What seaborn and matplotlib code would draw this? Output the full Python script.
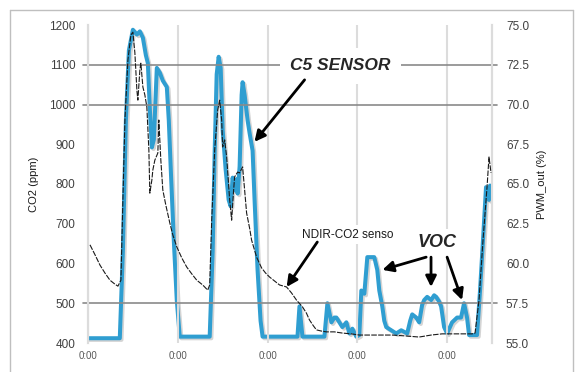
import matplotlib
matplotlib.use("Agg")
import matplotlib.pyplot as plt
import matplotlib.patheffects as pe
from matplotlib.lines import Line2D
import seaborn as sns
import pandas as pd

# ---- data (time in hours from first midnight) ----
c5_t = [0, 8.5, 9.33, 10.13, 10.93, 12.0, 13.07, 13.87, 14.67, 15.47, 16.0, 16.53, 17.07, 17.6,
        18.4, 19.2, 20.0, 21.07, 21.6, 22.13, 22.93, 23.73, 24.53, 32.53, 33.33, 33.87, 34.4,
        34.93, 35.47, 36.0, 36.8, 37.6, 38.13, 38.67, 39.2, 39.73, 40.0, 40.53, 41.07, 41.33,
        41.87, 42.67, 43.2, 44.0, 44.53, 45.33, 46.13, 46.67, 56.0, 56.53, 57.33, 63.2, 64.0,
        65.07, 65.87, 66.4, 67.2, 68.0, 69.07, 69.87, 70.67, 71.73, 72.53, 73.07, 73.87, 74.67,
        76.53, 77.33, 77.87, 78.67, 79.2, 79.73, 81.07, 82.4, 83.73, 85.33, 86.13, 86.67, 87.73,
        88.53, 89.33, 89.87, 90.67, 91.73, 92.53, 93.07, 93.87, 94.4, 95.2, 96.0, 97.33, 98.67,
        99.73, 100.53, 101.33, 101.87, 104.0, 104.8, 105.6, 106.4, 106.93, 107.2, 107.47, 107.73]
c5_pwm = [55.3, 55.3, 60.8, 69.0, 73.4, 74.7, 74.4, 74.6, 74.2, 73.1, 72.6, 69.7, 67.3, 67.8,
          72.3, 72.0, 71.5, 71.1, 69.0, 65.9, 61.5, 57.7, 55.4, 55.4, 60.8, 67.1, 71.9,
          73.0, 72.3, 68.4, 65.9, 64.0, 63.6, 65.4, 64.6, 65.3, 64.4, 66.1, 70.6, 71.4,
          70.6, 69.0, 68.2, 67.1, 64.0, 59.6, 56.4, 55.4, 55.4, 57.3, 55.4, 55.4, 57.5,
          56.3, 56.6, 56.6, 56.3, 56.0, 56.3, 55.6, 55.9, 55.4, 55.5, 58.3, 58.1, 60.4,
          60.4, 59.6, 58.3, 57.3, 56.4, 56.0, 55.8, 55.6, 55.8, 55.6, 56.4, 56.8, 56.6,
          56.3, 57.4, 57.7, 57.9, 57.7, 58.0, 57.9, 57.6, 57.3, 56.0, 55.6, 56.3, 56.6,
          56.6, 57.5, 56.6, 55.5, 55.5, 58.3, 61.5, 64.8, 64.3, 64.0, 64.9, 64.6]

ndir_t = [0.53, 1.87, 3.2, 4.53, 5.87, 7.2, 8.0, 8.8, 9.33, 9.87, 10.67, 11.47, 12.0, 12.53,
          13.07, 13.33, 13.87, 14.13, 14.67, 15.2, 15.73, 16.27, 16.53, 17.07, 17.33, 17.87,
          18.67, 18.93, 19.47, 20.0, 20.8, 21.87, 22.67, 23.73, 25.07, 26.4, 27.73, 29.07,
          30.67, 32.0, 32.53, 33.07, 33.87, 34.67, 35.2, 35.73, 36.0, 36.53, 37.07, 37.87,
          38.4, 38.93, 39.2, 40.0, 40.53, 41.33, 41.87, 42.4, 43.2, 43.73, 45.07, 46.4, 47.47,
          48.53, 49.87, 51.2, 53.07, 54.4, 55.73, 57.33, 58.4, 59.2, 60.27, 61.07, 62.4, 63.73,
          65.87, 68.0, 70.4, 72.53, 76.53, 81.33, 84.53, 88.53, 91.73, 94.67, 98.67, 102.67,
          103.47, 104.53, 105.6, 106.67, 107.2, 107.47, 107.73]
ndir_ppm = [647, 622, 596, 576, 558, 548, 543, 558, 760, 961, 1112, 1175, 1182, 1130,
            1036, 1011, 1087, 1104, 1044, 1024, 994, 886, 777, 810, 835, 860,
            878, 961, 860, 785, 747, 702, 672, 642, 614, 591, 574, 558,
            546, 533, 546, 709, 886, 986, 1011, 961, 893, 911, 868, 760,
            709, 785, 818, 830, 828, 843, 785, 727, 689, 659, 616, 589, 576,
            566, 556, 546, 541, 526, 508, 491, 475, 458, 443, 433, 430, 428,
            428, 425, 423, 420, 420, 420, 418, 415, 420, 423, 423, 423,
            425, 508, 659, 792, 868, 848, 828]

left_ticks = [400, 500, 600, 700, 800, 900, 1000, 1100, 1200]
right_ticks = [55.0, 57.5, 60.0, 62.5, 65.0, 67.5, 70.0, 72.5, 75.0]
x_ticks = [0, 24, 48, 72, 96]
x_labels = ["0:00"] * 5
grid_ppm = [500, 1000, 1100]

df_c5 = pd.DataFrame({"t": c5_t, "pwm": c5_pwm})
df_nd = pd.DataFrame({"t": ndir_t, "ppm": ndir_ppm})

sns.set_theme(style="white")
plt.rcParams["font.family"] = ["Liberation Sans", "DejaVu Sans"]

W, H = 577, 372
fig = plt.figure(figsize=(W / 100, H / 100), dpi=100)
ax = fig.add_axes([88 / W, 1 - 343 / H, (492 - 88) / W, (343 - 25) / H])
ax2 = ax.twinx()

# outer frame
for xs, ys in [([10, 10], [10, 372]), ([573, 573], [10, 372]), ([10, 573], [10, 10])]:
    fig.add_artist(Line2D([x / W for x in xs], [1 - y / H for y in ys], color="#bfbfbf", lw=1.0,
                          transform=fig.transFigure))

ax.set_xlim(0, 108)
ax.set_ylim(400, 1200)
ax2.set_ylim(55, 75)

# vertical grid
for xt in x_ticks:
    ax.axvline(xt, color="#dcdcdc", lw=1.5, zorder=0)
for s in ["top", "bottom"]:
    ax.spines[s].set_visible(False)
    ax2.spines[s].set_visible(False)
for a in (ax, ax2):
    a.spines["left"].set_color("#dcdcdc")
    a.spines["right"].set_color("#dcdcdc")
    a.spines["left"].set_linewidth(1.5)
    a.spines["right"].set_linewidth(1.5)

# horizontal grid lines overhanging axes slightly
for g in grid_ppm:
    ax.add_line(Line2D([-0.013, 1.013], [g, g], color="#8a8a8a", lw=1.2,
                       transform=ax.get_yaxis_transform(), clip_on=False, zorder=1))

sns.lineplot(data=df_c5, x="t", y="pwm", ax=ax2, color="#2F9ED1", lw=2.9, sort=False,
             estimator=None, zorder=3,
             path_effects=[pe.SimpleLineShadow(offset=(1.2, -1.2), alpha=0.25, shadow_color="#555"),
                           pe.Normal()])
sns.lineplot(data=df_nd, x="t", y="ppm", ax=ax, color="#1a1a1a", lw=0.8, sort=False,
             estimator=None, zorder=4, dashes=False)
ax.lines[-1].set_dashes([5, 1.2])
ax.set_zorder(ax2.get_zorder() + 1)
ax.patch.set_visible(False)

ax.set_xticks(x_ticks)
ax.set_xticklabels(x_labels, fontsize=7, color="#595959")
ax.set_yticks(left_ticks)
ax.set_yticklabels([str(v) for v in left_ticks], fontsize=8.5, color="#404040")
ax2.set_yticks(right_ticks)
ax2.set_yticklabels([f"{v:.1f}" for v in right_ticks], fontsize=8.5, color="#404040")
ax.tick_params(axis="both", length=0)
ax.tick_params(axis="y", pad=9)
ax.tick_params(axis="x", pad=6)
ax2.tick_params(axis="y", length=0, pad=10)

ax.set_xlabel("")
ax.set_ylabel("CO2 (ppm)", fontsize=8, color="#1a1a1a", labelpad=7)
ax2.set_ylabel("PWM_out (%)", fontsize=8, color="#1a1a1a", labelpad=6)

arrow = dict(arrowstyle="-|>", lw=2, color="black", mutation_scale=16, shrinkA=0, shrinkB=0)

ax.text(67.5, 1097, "C5 SENSOR", fontsize=12.5, fontweight="bold", fontstyle="italic",
        ha="center", va="center", zorder=6,
        bbox=dict(boxstyle="square,pad=0.6", fc="white", ec="none"))
ax.annotate("", xy=(44.5, 906), xytext=(57.9, 1062), arrowprops=arrow, zorder=7)

ax.text(57.3, 672, "NDIR-CO2 senso", fontsize=8.5, ha="left", va="center", color="#1a1a1a",
        zorder=6, bbox=dict(boxstyle="square,pad=0.3", fc="white", ec="none"))
ax.annotate("", xy=(53.1, 541), xytext=(61.3, 654), arrowprops=arrow, zorder=7)

ax.text(93.3, 652, "VOC", fontsize=13, fontweight="bold", fontstyle="italic",
        ha="center", va="center", zorder=6,
        bbox=dict(boxstyle="square,pad=0.3", fc="white", ec="none"))
ax.annotate("", xy=(78.7, 584), xytext=(90.4, 616), arrowprops=arrow, zorder=7)
ax.annotate("", xy=(91.7, 541), xytext=(91.7, 616), arrowprops=arrow, zorder=7)
ax.annotate("", xy=(100.0, 508), xytext=(96.0, 616), arrowprops=arrow, zorder=7)

fig.savefig("out.png", dpi=100, facecolor="white")
